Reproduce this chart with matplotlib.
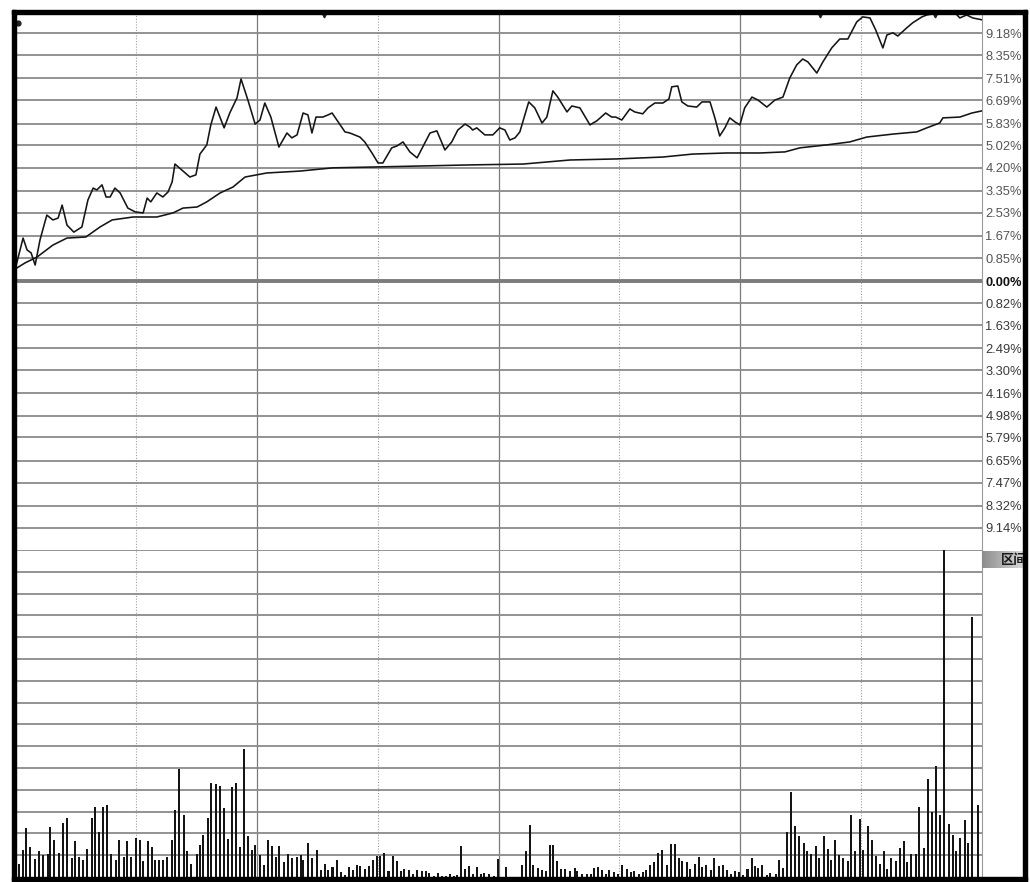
import numpy as np
import matplotlib
matplotlib.use('Agg')
import matplotlib.pyplot as plt
from matplotlib.patches import Rectangle

plt.rcParams['font.family'] = ['Liberation Sans', 'Noto Sans CJK SC', 'DejaVu Sans']

# 分时走势: 分钟 / 涨幅(%)
price_t = [0, 2.0, 3.0, 4.0, 5.0, 6.2, 7.9, 9.4, 10.7, 11.7,
           12.9, 14.6, 16.6, 18.1, 19.4, 20.3, 21.6, 22.6, 23.6, 24.8,
           26.1, 28.0, 29.8, 31.8, 32.8, 33.7, 35.2, 36.7, 38.0, 39.0,
           39.7, 41.4, 43.4, 44.9, 45.9, 47.6, 48.6, 49.9, 51.9, 53.3,
           55.1, 56.1, 57.8, 59.6, 60.8, 62.0, 63.5, 65.5, 67.5, 68.7,
           70.0, 71.5, 72.7, 73.7, 74.7, 76.4, 77.7, 78.7, 79.9, 81.9,
           83.1, 85.6, 86.8, 88.6, 90.1, 91.3, 93.5, 94.8, 96.3, 98.0,
           99.8, 101.2, 103.0, 104.7, 106.7, 108.4, 109.9, 111.7, 112.9, 113.6,
           114.6, 116.6, 118.6, 120.3, 121.6, 122.8, 124.1, 125.3, 127.5, 129.0,
           130.8, 132.0, 133.5, 134.7, 137.0, 138.2, 140.2, 142.7, 144.4, 146.6,
           148.1, 149.1, 150.6, 152.6, 153.8, 155.8, 157.1, 158.8, 160.8, 162.3,
           163.0, 164.5, 165.5, 167.0, 169.2, 170.5, 172.5, 173.7, 174.9, 176.2,
           177.4, 178.7, 179.9, 181.1, 182.9, 184.4, 186.6, 188.6, 190.6, 192.3,
           194.0, 195.5, 196.8, 199.0, 200.5, 202.7, 204.7, 206.7, 208.9, 210.4,
           212.2, 213.6, 215.4, 216.4, 217.9, 219.1, 221.3, 222.8, 225.1, 226.3,
           227.8, 229.5, 232.0, 233.3, 234.5, 236.2, 237.7, 239.0, 240]
price_pct = [0.41, 1.59, 1.15, 1.04, 0.59, 1.52, 2.44, 2.26, 2.33, 2.81,
             2.07, 1.81, 2.00, 3.00, 3.44, 3.37, 3.56, 3.11, 3.11, 3.44,
             3.26, 2.70, 2.56, 2.52, 3.07, 2.93, 3.26, 3.11, 3.30, 3.67,
             4.33, 4.11, 3.85, 3.93, 4.70, 5.04, 5.78, 6.44, 5.67, 6.22,
             6.78, 7.48, 6.70, 5.81, 5.96, 6.59, 6.07, 4.96, 5.48, 5.30,
             5.41, 6.22, 6.15, 5.48, 6.07, 6.07, 6.15, 6.22, 5.96, 5.52,
             5.48, 5.33, 5.15, 4.74, 4.37, 4.37, 4.93, 5.00, 5.15, 4.78,
             4.56, 4.96, 5.48, 5.56, 4.85, 5.15, 5.59, 5.81, 5.70, 5.59,
             5.67, 5.41, 5.41, 5.67, 5.59, 5.22, 5.30, 5.52, 6.63, 6.41,
             5.85, 6.07, 7.04, 6.81, 6.26, 6.48, 6.41, 5.78, 5.93, 6.22,
             6.07, 6.07, 5.96, 6.37, 6.26, 6.19, 6.41, 6.59, 6.59, 6.74,
             7.19, 7.22, 6.63, 6.48, 6.44, 6.63, 6.63, 6.04, 5.37, 5.67,
             6.04, 5.89, 5.78, 6.41, 6.81, 6.70, 6.44, 6.70, 6.81, 7.52,
             8.00, 8.22, 8.11, 7.70, 8.11, 8.63, 8.96, 8.96, 9.59, 9.78,
             9.74, 9.30, 8.63, 9.11, 9.19, 9.07, 9.37, 9.56, 9.78, 9.85,
             9.89, 9.93, 9.89, 9.93, 9.74, 9.85, 9.74, 9.70, 9.67]

# 均价线
avg_t = [0, 2.5, 5.5, 9.4, 12.9, 17.6, 21.1, 24.1, 29.3, 35.2,
         39.2, 41.7, 45.2, 47.6, 50.9, 54.1, 57.1, 62.5, 70.7, 78.9,
         88.8, 101.2, 113.6, 126.1, 137.7, 149.4, 160.8, 168.2, 176.7, 184.9,
         191.1, 194.8, 201.5, 207.2, 211.4, 217.9, 223.8, 226.3, 229.5, 230.3,
         234.5, 237.5, 240]
avg_pct = [0.44, 0.67, 0.89, 1.33, 1.59, 1.63, 2.00, 2.26, 2.37, 2.37,
           2.52, 2.70, 2.74, 2.93, 3.26, 3.48, 3.85, 4.00, 4.07, 4.19,
           4.22, 4.26, 4.30, 4.33, 4.48, 4.52, 4.59, 4.70, 4.74, 4.74,
           4.78, 4.93, 5.04, 5.15, 5.33, 5.44, 5.52, 5.67, 5.85, 6.04,
           6.07, 6.22, 6.30]

# 成交量 (每格=1)
vol_t = [1.0, 2.1, 2.7, 3.7, 5.0, 6.0, 6.9, 8.2, 8.7, 9.7,
         10.9, 11.8, 13.0, 14.1, 14.9, 15.9, 16.9, 17.9, 19.0, 19.9,
         20.9, 21.8, 22.8, 23.8, 25.0, 25.8, 27.0, 27.9, 28.8, 30.0,
         31.0, 31.8, 32.9, 34.0, 34.8, 35.8, 36.8, 37.8, 39.0, 39.8,
         40.7, 41.9, 42.8, 43.8, 45.1, 45.9, 46.7, 47.8, 48.7, 49.8,
         50.9, 51.8, 52.8, 53.8, 54.8, 55.9, 56.8, 57.9, 58.9, 59.6,
         60.8, 61.9, 62.8, 63.9, 64.8, 65.6, 66.7, 67.8, 68.8, 69.9,
         70.9, 71.6, 72.7, 73.7, 74.9, 75.9, 76.9, 77.8, 78.8, 79.8,
         80.8, 81.9, 82.9,
         83.8, 84.8, 85.6, 86.8, 87.9, 88.8, 89.8, 90.7, 91.6, 92.7,
         93.7, 94.7, 95.8, 96.5, 97.7, 98.7, 99.7, 100.9, 102.0, 102.8,
         103.9, 104.9, 105.9, 106.9, 107.9, 108.9, 109.6, 110.6, 111.8, 112.8,
         113.7, 114.7, 115.7, 116.5, 117.7, 118.9, 119.9, 121.8, 125.8, 126.8,
         127.7, 128.6, 129.7, 130.7, 131.7, 132.8, 133.6, 134.6, 135.6, 136.6,
         137.7, 138.9, 139.6, 140.8, 141.9, 142.9, 143.8, 144.8, 145.8, 146.7,
         147.4, 148.6, 149.6, 150.6, 151.8, 152.8, 153.6, 154.8, 155.8, 156.7,
         157.7, 158.7, 159.6, 160.6, 161.7, 162.8, 163.8, 164.8,
         165.5, 166.7, 167.5, 168.7, 169.8, 170.6, 171.6, 172.7, 173.4, 174.7,
         175.8, 176.8, 177.8, 178.8, 179.7, 180.7, 181.8, 182.8, 183.7, 184.4,
         185.5, 186.7, 187.5, 188.8, 189.7, 190.5, 191.5, 192.7, 193.6, 194.6,
         195.8, 196.5, 197.6, 198.7, 199.6, 200.7, 201.9, 202.6, 203.6, 204.5,
         205.6, 206.8, 207.6, 208.6, 209.6, 210.5, 211.6, 212.6, 213.7, 214.6,
         215.6, 216.5, 217.5, 218.7, 219.6, 220.6, 221.4, 222.5, 223.6, 224.4,
         225.6, 226.6, 227.5, 228.5, 229.5, 230.6, 231.7, 232.8, 233.5, 234.5,
         235.7, 236.5, 237.6, 238.9]
vol_h = [0.61, 1.26, 2.25, 1.38, 0.81, 1.19, 0.99, 1.04, 2.29, 1.68,
         1.10, 2.48, 2.69, 0.89, 1.65, 0.92, 0.80, 1.30, 2.72, 3.21,
         2.05, 3.21, 3.32, 1.04, 0.80, 1.68, 0.94, 1.65, 0.92, 1.81,
         1.72, 0.73, 1.65, 1.38, 0.80, 0.80, 0.80, 0.92, 1.68, 3.09,
         4.95, 2.85, 1.19, 0.61, 1.04, 1.45, 1.91, 2.69, 4.31, 4.28,
         4.19, 3.18, 1.74, 4.15, 4.31, 1.38, 5.88, 1.88, 1.22, 1.45,
         0.99, 0.54, 1.68, 1.41, 0.92, 1.41, 0.67, 1.04, 0.89, 0.92,
         1.00, 0.77, 1.58, 0.89, 1.26, 0.34, 0.61, 0.34, 0.46, 0.80,
         0.23, 0.11, 0.46,
         0.31, 0.54, 0.50, 0.35, 0.52, 0.80, 0.95, 0.95, 1.10, 0.26,
         0.95, 0.73, 0.27, 0.38, 0.34, 0.12, 0.34, 0.27, 0.26, 0.18,
         0.06, 0.18, 0.06, 0.06, 0.12, 0.06, 0.08, 1.44, 0.37, 0.52,
         0.12, 0.46, 0.12, 0.20, 0.12, 0.06, 0.81, 0.46, 0.57, 1.19,
         2.37, 0.57, 0.41, 0.34, 0.26, 1.46, 1.46, 0.72, 0.35, 0.35,
         0.26, 0.40, 0.27, 0.12, 0.12, 0.12, 0.40, 0.46, 0.31, 0.12,
         0.34, 0.21, 0.12, 0.57, 0.35, 0.21, 0.26, 0.12, 0.25, 0.31,
         0.54, 0.67, 1.10, 1.25, 0.57, 1.50, 1.50, 0.87,
         0.73, 0.67, 0.37, 0.58, 0.92, 0.46, 0.57, 0.31, 0.89, 0.52,
         0.55, 0.34, 0.12, 0.27, 0.23, 0.09, 0.37, 0.89, 0.52, 0.41,
         0.55, 0.08, 0.18, 0.12, 0.80, 0.40, 2.05, 3.90, 2.33, 1.88,
         1.56, 1.18, 1.04, 1.42, 0.89, 1.86, 1.30, 0.80, 1.68, 1.00,
         0.89, 0.73, 2.83, 1.19, 2.68, 1.26, 2.33, 1.68, 0.95, 0.61,
         1.19, 0.37, 0.89, 0.73, 1.31, 1.63, 0.67, 1.04, 1.04, 3.21,
         1.33, 4.49, 3.00, 5.08, 2.83, 15.2, 2.42, 1.91, 1.19, 1.81,
         2.60, 1.58, 11.93, 3.30]

up_ticks = [0.85, 1.67, 2.53, 3.35, 4.20, 5.02, 5.83, 6.69, 7.51, 8.35, 9.18]
down_ticks = [0.82, 1.63, 2.49, 3.30, 4.16, 4.98, 5.79, 6.65, 7.47, 8.32, 9.14]

mark_t = [76.7, 199.8, 228.3]   # 顶部小三角


W, H = 1030, 882
def fx(px):
    return px / W
def fy(py):
    return 1 - py / H

fig = plt.figure(figsize=(W / 100, H / 100), dpi=100)
fig.patch.set_facecolor('white')

ax = fig.add_axes([fx(15), fy(550), fx(982) - fx(15), fy(12) - fy(550)])
axv = fig.add_axes([fx(15), fy(877), fx(982) - fx(15), fy(550) - fy(877)])

grid_c = '#8a8a8a'
for a in (ax, axv):
    a.set_xlim(0, 240)
    a.set_xticks([])
    for s in ['top', 'left', 'bottom']:
        a.spines[s].set_visible(False)
    a.spines['right'].set_color('#9a9a9a')
    a.spines['right'].set_linewidth(0.8)
    for t in [30, 90, 150, 210]:
        a.axvline(t, color='#a0a0a0', lw=0.8, ls=(0, (1, 1.5)), zorder=1)
    for t in [60, 120, 180]:
        a.axvline(t, color='#7a7a7a', lw=0.9, zorder=1)

# 价格区
ax.set_ylim(-9.96, 9.96)
for v in up_ticks + [-v for v in down_ticks]:
    ax.axhline(v, color=grid_c, lw=1.3, zorder=1)
ax.axhline(0, color='#7c7c7c', lw=2.8, zorder=1)

ax.plot(avg_t, avg_pct, color='#151515', lw=1.15, zorder=3)
ax.plot(price_t, price_pct, color='#151515', lw=1.15, zorder=4)
ax.plot(mark_t, [9.85] * len(mark_t), ls='none', marker='v', ms=3.5,
        color='#222222', zorder=5, clip_on=False)
ax.plot([0.7], [9.56], ls='none', marker='o', ms=3.5, color='#222222', zorder=5)

ticks = up_ticks[::-1] + [0] + [-v for v in down_ticks]
labels = ['%.2f%%' % abs(v) for v in ticks]
ax.yaxis.tick_right()
ax.set_yticks(ticks)
ax.set_yticklabels(labels)
ax.tick_params(axis='y', length=0, pad=2.5, labelsize=9.3, labelcolor='#555555')
for lab, v in zip(ax.get_yticklabels(), ticks):
    if v == 0:
        lab.set_fontweight('bold')
        lab.set_color('#111111')
    elif v < 0:
        lab.set_color('#3a3a3a')

# 成交量区
axv.set_ylim(0, 15)
axv.set_yticks([])
for k in range(1, 16):
    axv.axhline(k, color=grid_c, lw=1.3, zorder=1)
axv.bar(vol_t, vol_h, width=0.5, color='#141414', linewidth=0, zorder=3)

# 右侧"区间"标签
axh = fig.add_axes([fx(982), fy(568), fx(1023) - fx(982), fy(551) - fy(568)])
grad = np.linspace(0.55, 0.85, 64).reshape(1, -1)
axh.imshow(grad, aspect='auto', cmap='gray', vmin=0, vmax=1, extent=[0, 1, 0, 1])
axh.set_xlim(0, 1)
axh.set_ylim(0, 1)
axh.axis('off')
axh.text(0.47, 0.45, '区间', fontsize=9.5, fontweight='bold', color='#1a1a1a',
         va='center', ha='left', family=['Noto Sans CJK SC', 'DejaVu Sans'],
         clip_on=True)

# 黑色边框
def black_rect(x0, y0, x1, y1):
    fig.add_artist(Rectangle((fx(x0), fy(y1)), fx(x1) - fx(x0), fy(y0) - fy(y1),
                             transform=fig.transFigure, color='black',
                             zorder=10))

black_rect(11.5, 9.5, 1027, 13.5)
black_rect(11.5, 9.5, 15.5, 880.5)
black_rect(11.5, 877, 1027, 880.5)
black_rect(1023, 9.5, 1027, 880.5)

fig.savefig('out.png', dpi=100, facecolor='white')
